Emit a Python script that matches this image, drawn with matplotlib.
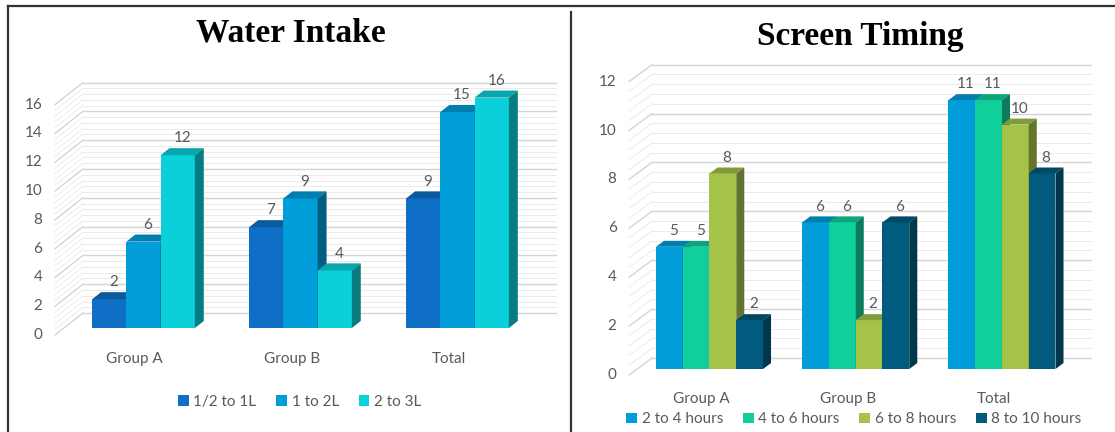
import numpy as np
import matplotlib
matplotlib.use("Agg")
import matplotlib.pyplot as plt
from matplotlib.patches import Polygon
from matplotlib.lines import Line2D
from matplotlib.colors import to_rgb

plt.rcParams["font.family"] = ["Lato", "DejaVu Sans"]

groups = ["Group A", "Group B", "Total"]

water_labels = ["1/2 to 1L", "1 to 2L", "2 to 3L"]
water_half_to_1 = [2, 7, 9]
water_1_to_2 = [6, 9, 15]
water_2_to_3 = [12, 4, 16]
water_colors = ["#0f6fc6", "#009dd9", "#0bd0d9"]

screen_labels = ["2 to 4 hours", "4 to 6 hours", "6 to 8 hours", "8 to 10 hours"]
screen_2_to_4 = [5, 6, 11]
screen_4_to_6 = [5, 6, 11]
screen_6_to_8 = [8, 2, 10]
screen_8_to_10 = [2, 6, 8]
screen_colors = ["#009dd9", "#10cf9b", "#a5c249", "#005b7f"]

GRAY = "#595959"
W, H = 1115, 432


def shade(c, f):
    r, g, b = to_rgb(c)
    return (r * f, g * f, b * f)


def draw_panel(ax, series, names, colors, width, ymax, depth, zb, xf, xr, legend_y):
    dx, dy = depth
    n = len(series)
    x = np.arange(len(groups))

    # walls: back wall horizontals + side wall diagonals
    for v in np.arange(0, ymax + 0.01, 0.4):
        major = abs(v / 2 - round(v / 2)) < 1e-6
        col = "#d4d4d4" if major else "#ebebeb"
        lw = 1.0 if major else 0.7
        yf = v - zb * dy
        yb = v + (1 - zb) * dy
        ax.plot([xf, xf + dx], [yf, yb], color=col, lw=lw, zorder=1)
        ax.plot([xf + dx, xr], [yb, yb], color=col, lw=lw, zorder=1)
    for v in range(0, ymax + 1, 2):
        ax.annotate(str(v), (xf, v - zb * dy), xytext=(-9, 0), textcoords="offset points",
                    ha="right", va="center", fontsize=11, color=GRAY)

    bdx, bdy = dx * zb, dy * zb
    handles = []
    for j, (vals, c) in enumerate(zip(series, colors)):
        pos = x + (j - (n - 1) / 2) * width
        bars = ax.bar(pos, vals, width, color=c, zorder=3 + j, linewidth=0)
        handles.append(bars)
        for r, v in zip(bars.patches, vals):
            x0, x1 = r.get_x(), r.get_x() + r.get_width()
            top = [(x0, v), (x1, v), (x1 + bdx, v + bdy), (x0 + bdx, v + bdy)]
            side = [(x1, 0), (x1, v), (x1 + bdx, v + bdy), (x1 + bdx, bdy)]
            ax.add_patch(Polygon(top, closed=True, color=shade(c, 0.8), lw=0, zorder=3 + j))
            ax.add_patch(Polygon(side, closed=True, color=shade(c, 0.6), lw=0, zorder=3 + j))
            ax.annotate(str(v), ((x0 + x1) / 2 + bdx / 2, v + bdy), xytext=(0, 7),
                        textcoords="offset points", ha="center", va="center",
                        fontsize=11, color=GRAY, zorder=20)

    for i, g in enumerate(groups):
        ax.annotate(g, (i - zb * dx, -zb * dy), xytext=(0, -17), textcoords="offset points",
                    ha="center", va="center", fontsize=11, color=GRAY)

    leg = ax.legend(handles, names, loc="center", bbox_to_anchor=(0.52, legend_y), ncol=n,
                    frameon=False, fontsize=11, handlelength=0.7, handleheight=0.7,
                    handletextpad=0.3, columnspacing=1.3, borderpad=0)
    for t in leg.get_texts():
        t.set_color(GRAY)
    ax.axis("off")


fig = plt.figure(figsize=(W / 100, H / 100), dpi=100)

ax1 = fig.add_axes([8 / W, 0, 561 / W, 426 / H])
ax1.set_xlim(-0.863, 2.710)
ax1.set_ylim(-7.22, 22.36)
draw_panel(ax1, [water_half_to_1, water_1_to_2, water_2_to_3], water_labels, water_colors,
           0.218, 16, (0.178, 1.53), 0.32, -0.564, 2.627, 0.07)

ax2 = fig.add_axes([571 / W, 0, 544 / W, 426 / H])
ax2.set_xlim(-0.947, 2.773)
ax2.set_ylim(-2.577, 14.85)
draw_panel(ax2, [screen_2_to_4, screen_4_to_6, screen_6_to_8, screen_8_to_10], screen_labels,
           screen_colors, 0.183, 12, (0.157, 0.695), 0.35, -0.55, 2.609, 0.03)

fig.text(291 / W, 1 - 33 / H, "Water Intake", ha="center", va="center", fontsize=24,
         fontweight="bold", family="Liberation Serif")
fig.text(860 / W, 1 - 37 / H, "Screen Timing", ha="center", va="center", fontsize=24,
         fontweight="bold", family="Liberation Serif")

# frame lines
fig.add_artist(Line2D([8 / W, 1], [1 - 6 / H, 1 - 6 / H], color="#333333", lw=1.6))
fig.add_artist(Line2D([8 / W, 8 / W], [0, 1 - 6 / H], color="#333333", lw=1.6))
fig.add_artist(Line2D([571 / W, 571 / W], [0, 1 - 12 / H], color="#333333", lw=1.6))

fig.savefig("out.png", dpi=100)
